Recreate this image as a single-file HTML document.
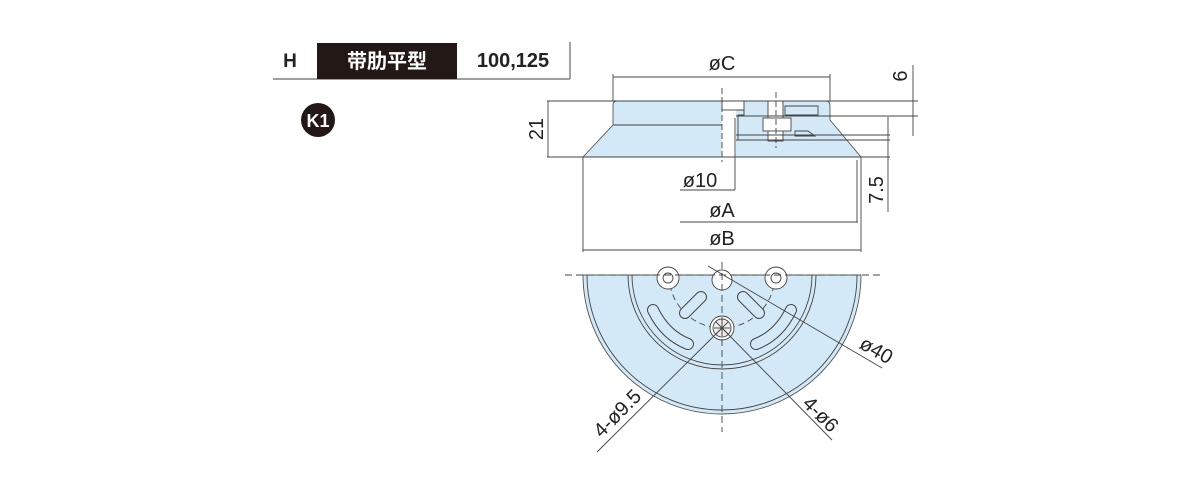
<!DOCTYPE html>
<html><head><meta charset="utf-8"><style>
html,body{margin:0;padding:0;background:#fff;width:1200px;height:500px;overflow:hidden}
svg{display:block}
text{font-family:"Liberation Sans",Arial,sans-serif;fill:#222}
</style></head><body>
<svg width="1200" height="500" viewBox="0 0 1200 500">
<!-- header -->
<line x1="273" y1="79" x2="570" y2="79" stroke="#666" stroke-width="1.2"/>
<line x1="570" y1="42" x2="570" y2="79" stroke="#666" stroke-width="1.2"/>
<rect x="317" y="43" width="140" height="36" fill="#231815"/>
<text x="290" y="67" font-size="19" font-weight="bold" text-anchor="middle">H</text>
<text x="387" y="68" font-size="20" font-weight="bold" fill="#fff" style="fill:#fff;font-family:'Liberation Sans','Noto Sans CJK SC',sans-serif" text-anchor="middle">带肋平型</text>
<text x="513" y="67" font-size="20" font-weight="bold" text-anchor="middle">100,125</text>
<circle cx="318" cy="120" r="17" fill="#231815"/>
<text x="318" y="127" font-size="18" font-weight="bold" style="fill:#fff" text-anchor="middle">K1</text>

<g stroke="#444" stroke-width="0.9" fill="none">
<path d="M617 101 H826 Q830 101 830 106 V120 L861 157 H583 L613 125 V105 Q613 101 617 101 Z" fill="#d4e9f7" stroke="#555"/>
<rect x="722" y="101" width="14" height="57" fill="#fff" stroke="none"/>
<line x1="613" y1="125" x2="722" y2="125"/>
<rect x="722" y="101" width="22" height="9" fill="#fff"/>
<rect x="768" y="101" width="15" height="40" fill="#fff"/>
<rect x="763" y="118" width="28" height="13" fill="#fff"/>
<path d="M736 110 H744 V115 H738 V140 H768" />
<path d="M785 106 H818 V115 H785 Z"/>
<path d="M795 131 H808 L815 136 H795 Z"/>
<line x1="736" y1="140" x2="890" y2="140"/>
<line x1="736" y1="135" x2="890" y2="135"/>
<line x1="736" y1="116" x2="918" y2="116"/>
<line x1="547" y1="101" x2="918" y2="101"/>
<line x1="547" y1="157" x2="890" y2="157"/>
<line x1="583" y1="157" x2="583" y2="252"/>
<line x1="861" y1="157" x2="861" y2="252"/>
<line x1="583" y1="250" x2="861" y2="250"/>
<line x1="680" y1="222" x2="858" y2="222"/>
<line x1="680" y1="190" x2="735" y2="190"/>
<line x1="735" y1="118" x2="735" y2="190"/>
<line x1="857" y1="160" x2="857" y2="222"/>
<line x1="613" y1="74" x2="613" y2="101"/>
<line x1="830" y1="74" x2="830" y2="101"/>
<line x1="613" y1="77" x2="830" y2="77"/>
<line x1="548" y1="101" x2="548" y2="157"/>
<line x1="888" y1="117" x2="888" y2="212"/>
<line x1="913" y1="65" x2="913" y2="136"/>
<line x1="722" y1="88" x2="722" y2="162" stroke-dasharray="6 3"/>
<line x1="776" y1="92" x2="776" y2="148" stroke-dasharray="6 3"/>

<path d="M583 275 A139 139 0 0 0 861 275 Z" fill="#d4e9f7" stroke="#555"/>
<path d="M587 275 A135 135 0 0 0 857 275"/>
<path d="M628 275 A94 94 0 0 0 816 275"/>
<path d="M632 275 A90 90 0 0 0 812 275"/>
<path d="M669 275 A53 53 0 0 0 775 275" stroke-dasharray="6 4"/>
<circle cx="722" cy="280" r="10" fill="#fff"/>
<circle cx="668" cy="278" r="11" fill="#fff"/>
<circle cx="668" cy="278" r="5"/>
<circle cx="776" cy="278" r="11" fill="#fff"/>
<circle cx="776" cy="278" r="5"/>
<circle cx="722" cy="328" r="12" fill="#fff"/>
<circle cx="722" cy="328" r="9" fill="#eee"/>
<line x1="714" y1="328" x2="730" y2="328"/><line x1="722" y1="320" x2="722" y2="336"/>
<line x1="716" y1="322" x2="728" y2="334"/><line x1="728" y1="322" x2="716" y2="334"/>
<g>
<path d="M701 297 L685 313" stroke-width="12" stroke-linecap="round" stroke="#444"/>
<path d="M701 297 L685 313" stroke-width="10" stroke-linecap="round" stroke="#d4e9f7"/>
<path d="M743 297 L759 313" stroke-width="12" stroke-linecap="round" stroke="#444"/>
<path d="M743 297 L759 313" stroke-width="10" stroke-linecap="round" stroke="#d4e9f7"/>
<path d="M653 310 Q665 335 688 344" stroke-width="12" stroke-linecap="round" stroke="#444"/>
<path d="M653 310 Q665 335 688 344" stroke-width="10" stroke-linecap="round" stroke="#d4e9f7"/>
<path d="M791 310 Q779 335 756 344" stroke-width="12" stroke-linecap="round" stroke="#444"/>
<path d="M791 310 Q779 335 756 344" stroke-width="10" stroke-linecap="round" stroke="#d4e9f7"/>
</g>
<line x1="565" y1="275" x2="880" y2="275" stroke-dasharray="7 4"/>
<line x1="722" y1="262" x2="722" y2="432" stroke-dasharray="7 4"/>
<line x1="708" y1="266" x2="882" y2="368"/>
<line x1="722" y1="328" x2="832" y2="440"/>
<line x1="722" y1="328" x2="597" y2="452"/>
</g>
<g font-size="20">
<text x="722" y="70" text-anchor="middle">øC</text>
<text transform="translate(543,129) rotate(-90)" text-anchor="middle">21</text>
<text transform="translate(907,76) rotate(-90)" text-anchor="middle">6</text>
<text transform="translate(883,190) rotate(-90)" text-anchor="middle">7.5</text>
<text x="700" y="187" text-anchor="middle">ø10</text>
<text x="722" y="217" text-anchor="middle">øA</text>
<text x="722" y="245" text-anchor="middle">øB</text>
<text transform="translate(873,356) rotate(30)" text-anchor="middle">ø40</text>
<text transform="translate(816,419) rotate(45)" text-anchor="middle">4-ø6</text>
<text transform="translate(622,418) rotate(-45)" text-anchor="middle">4-ø9.5</text>
</g>
</svg>
</body></html>
